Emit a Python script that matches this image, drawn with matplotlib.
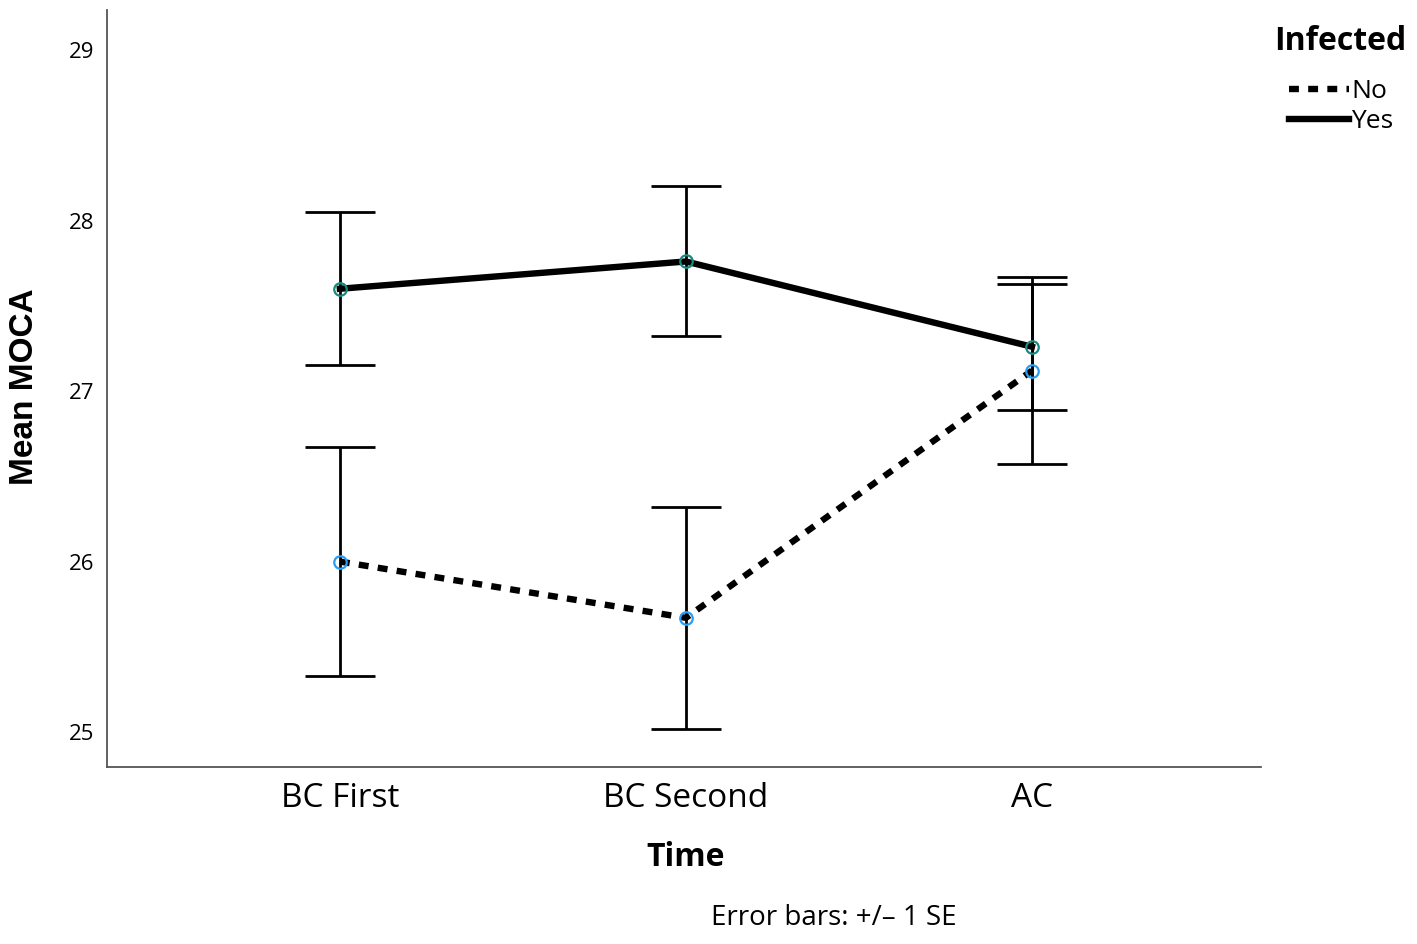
import matplotlib.pyplot as plt
from matplotlib.lines import Line2D

# data
time_points = ['BC First', 'BC Second', 'AC']
mean_no = [26.00, 25.67, 27.12]
se_no = [0.67, 0.65, 0.55]
mean_yes = [27.60, 27.76, 27.26]
se_yes = [0.45, 0.44, 0.37]
y_ticks = [25, 26, 27, 28, 29]
groups = ['No', 'Yes']

x = list(range(len(time_points)))
dash = (0, (1.55, 1.45))

fig = plt.figure(figsize=(14.17, 9.44), dpi=100)
ax = fig.add_axes([107 / 1417, 1 - 767 / 944, 1154 / 1417, 757 / 944])

# error bars first, then lines, then the open markers on top
ax.errorbar(x, mean_no, yerr=se_no, fmt='none', ecolor='black',
            elinewidth=2, capsize=25, capthick=2, zorder=2)
ax.errorbar(x, mean_yes, yerr=se_yes, fmt='none', ecolor='black',
            elinewidth=2, capsize=25, capthick=2, zorder=2)

ax.plot(x, mean_no, color='black', lw=4.6, linestyle=dash, zorder=3)
ax.plot(x, mean_yes, color='black', lw=4.6, linestyle='-', zorder=3)

ax.plot(x, mean_no, linestyle='none', marker='o', ms=9, mfc='none',
        mec='#2a9df4', mew=1.6, zorder=4)
ax.plot(x, mean_yes, linestyle='none', marker='o', ms=9, mfc='none',
        mec='#1a8a80', mew=1.6, zorder=4)

ax.set_xlim(-0.673, 2.662)
ax.set_ylim(24.795, 29.235)
ax.set_xticks(x)
ax.set_xticklabels(time_points, fontsize=24, family='Open Sans')
ax.set_yticks(y_ticks)
ax.set_yticklabels([str(t) for t in y_ticks], fontsize=16, family='Open Sans')
ax.tick_params(axis='both', length=0)
ax.tick_params(axis='x', pad=11)
ax.tick_params(axis='y', pad=9)

for s in ['top', 'right']:
    ax.spines[s].set_visible(False)
for s in ['left', 'bottom']:
    ax.spines[s].set_color('#555555')
    ax.spines[s].set_linewidth(1.3)

fig.text(25 / 1417, 1 - 387 / 944, 'Mean MOCA', rotation=90, ha='center', va='center',
         fontsize=24, fontweight='bold', family='Liberation Sans')
fig.text(686 / 1417, 1 - 858 / 944, 'Time', ha='center', va='center',
         fontsize=23, fontweight='bold', family='Open Sans')
fig.text(834 / 1417, 1 - 918 / 944, 'Error bars: +/\u2013 1 SE', ha='center', va='center',
         fontsize=20, family='Open Sans')

# legend: title drawn separately so the gap under it matches
fig.text(1340 / 1417, 1 - 41 / 944, 'Infected', ha='center', va='center',
         fontsize=23, fontweight='bold', family='Open Sans')
handles = [Line2D([], [], color='black', lw=4.6, linestyle=dash),
           Line2D([], [], color='black', lw=4.6, linestyle='-')]
fig.legend(handles, groups, loc='upper left',
           bbox_to_anchor=(1276 / 1417, 1 - 66 / 944), frameon=False,
           handlelength=2.25, handletextpad=0.1, labelspacing=0.2,
           borderpad=0, prop={'family': 'Open Sans', 'size': 19})

fig.savefig('out.png', dpi=100)
